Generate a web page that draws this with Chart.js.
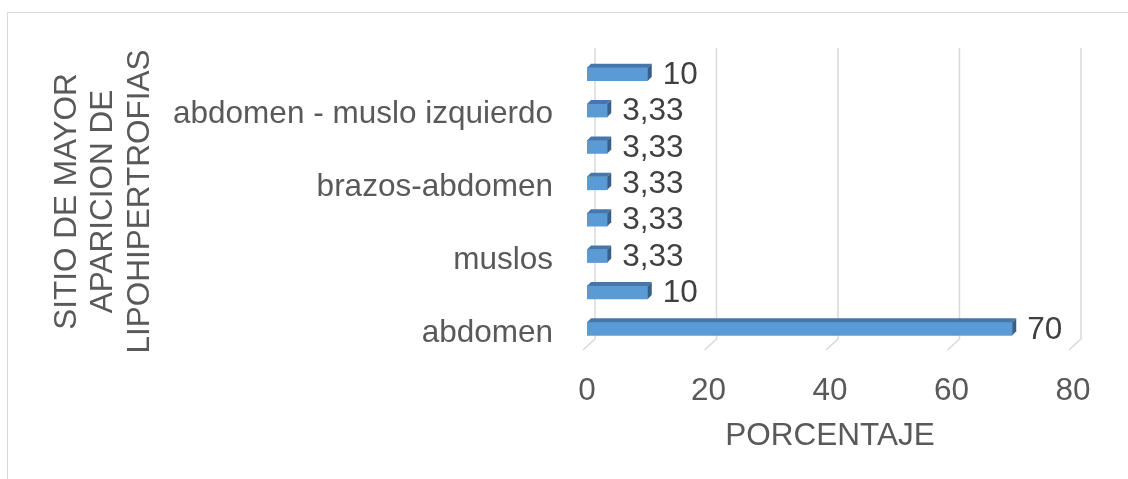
<!DOCTYPE html>
<html>
<head>
<meta charset="utf-8">
<script src="https://cdn.jsdelivr.net/npm/chart.js@4.4.1/dist/chart.umd.min.js"></script>
<style>
  html, body { margin: 0; padding: 0; background: #ffffff; }
  #wrap { position: relative; width: 1128px; height: 479px; overflow: hidden; }
  #frame { position: absolute; left: 7px; top: 12px; width: 1200px; height: 600px;
           border-left: 1px solid #d9d9d9; border-top: 1px solid #d9d9d9; }
  canvas { position: absolute; left: 0; top: 0; }
</style>
</head>
<body>
<div id="wrap">
  <div id="frame"></div>
  <canvas id="grafico"></canvas>
</div>
<script>
// categorías de arriba hacia abajo (las vacías no tienen rótulo visible en el original)
const SITIOS = ['', 'abdomen - muslo izquierdo', '', 'brazos-abdomen', '', 'muslos', '', 'abdomen'];
const PORCENTAJES = [10, 3.33, 3.33, 3.33, 3.33, 3.33, 10, 70];
const TICKS_X = [0, 20, 40, 60, 80];

const FUENTE = 'Liberation Sans, Arial, sans-serif';
const PROF = 4; // profundidad del efecto 3D

function formatoComa(v) {
  return String(v).replace('.', ',');
}

// líneas de cuadrícula con pie en perspectiva
const cuadricula3D = {
  id: 'cuadricula3D',
  beforeDatasetsDraw(chart) {
    const { ctx } = chart;
    const x = chart.scales.x;
    ctx.save();
    ctx.strokeStyle = '#d9d9d9';
    ctx.lineWidth = 1.5;
    TICKS_X.forEach((v) => {
      const px = x.getPixelForValue(v);
      ctx.beginPath();
      ctx.moveTo(px + 8, 48);
      ctx.lineTo(px + 8, 339);
      ctx.lineTo(px - 4, 350);
      ctx.stroke();
    });
    ctx.restore();
  },
};

// caras superior y lateral de las barras + etiquetas de datos
const barras3D = {
  id: 'barras3D',
  afterDatasetsDraw(chart) {
    const { ctx } = chart;
    const meta = chart.getDatasetMeta(0);
    ctx.save();
    meta.data.forEach((bar, i) => {
      const { x, y, base, height } = bar.getProps(['x', 'y', 'base', 'height'], true);
      const top = y - height / 2;
      const bot = y + height / 2;

      ctx.fillStyle = '#4677ab';
      ctx.beginPath();
      ctx.moveTo(base, top);
      ctx.lineTo(base + PROF, top - PROF);
      ctx.lineTo(x + PROF, top - PROF);
      ctx.lineTo(x, top);
      ctx.closePath();
      ctx.fill();

      ctx.fillStyle = '#375f8a';
      ctx.beginPath();
      ctx.moveTo(x, top);
      ctx.lineTo(x + PROF, top - PROF);
      ctx.lineTo(x + PROF, bot - PROF);
      ctx.lineTo(x, bot);
      ctx.closePath();
      ctx.fill();

      ctx.fillStyle = '#404040';
      ctx.font = '31.5px ' + FUENTE;
      ctx.textAlign = 'left';
      ctx.textBaseline = 'middle';
      ctx.fillText(formatoComa(PORCENTAJES[i]), x + PROF + 11, y + 1);
    });
    ctx.restore();
  },
};

new Chart(document.getElementById('grafico'), {
  type: 'bar',
  data: {
    labels: SITIOS,
    datasets: [{
      data: PORCENTAJES,
      backgroundColor: '#5b9bd5',
      borderWidth: 0,
      barThickness: 13,
    }],
  },
  options: {
    indexAxis: 'y',
    responsive: true,
    maintainAspectRatio: false,
    animation: false,
    layout: { padding: { top: 56, right: 55, bottom: 0, left: 0 } },
    plugins: { legend: { display: false }, tooltip: { enabled: false } },
    scales: {
      x: {
        min: 0,
        max: 80,
        ticks: { stepSize: 20, padding: 17, color: '#595959', font: { family: FUENTE, size: 31.5 } },
        grid: { display: false },
        border: { display: false },
        title: {
          display: true,
          text: 'PORCENTAJE',
          color: '#595959',
          font: { family: FUENTE, size: 31.5 },
          padding: { top: 0, bottom: 24 },
        },
        afterFit(scale) { scale.height = 132; },
      },
      y: {
        ticks: { autoSkip: false, padding: 26, labelOffset: 4, color: '#595959', font: { family: FUENTE, size: 31.5 } },
        grid: { display: false },
        border: { display: false },
        title: {
          display: true,
          text: ['SITIO DE MAYOR', 'APARICION DE', 'LIPOHIPERTROFIAS'],
          color: '#595959',
          font: { family: FUENTE, size: 31.5, lineHeight: 1.16 },
          padding: { top: 49, bottom: 0 },
        },
        afterFit(scale) { scale.width = 587; },
      },
    },
  },
  plugins: [cuadricula3D, barras3D],
});
</script>
</body>
</html>
